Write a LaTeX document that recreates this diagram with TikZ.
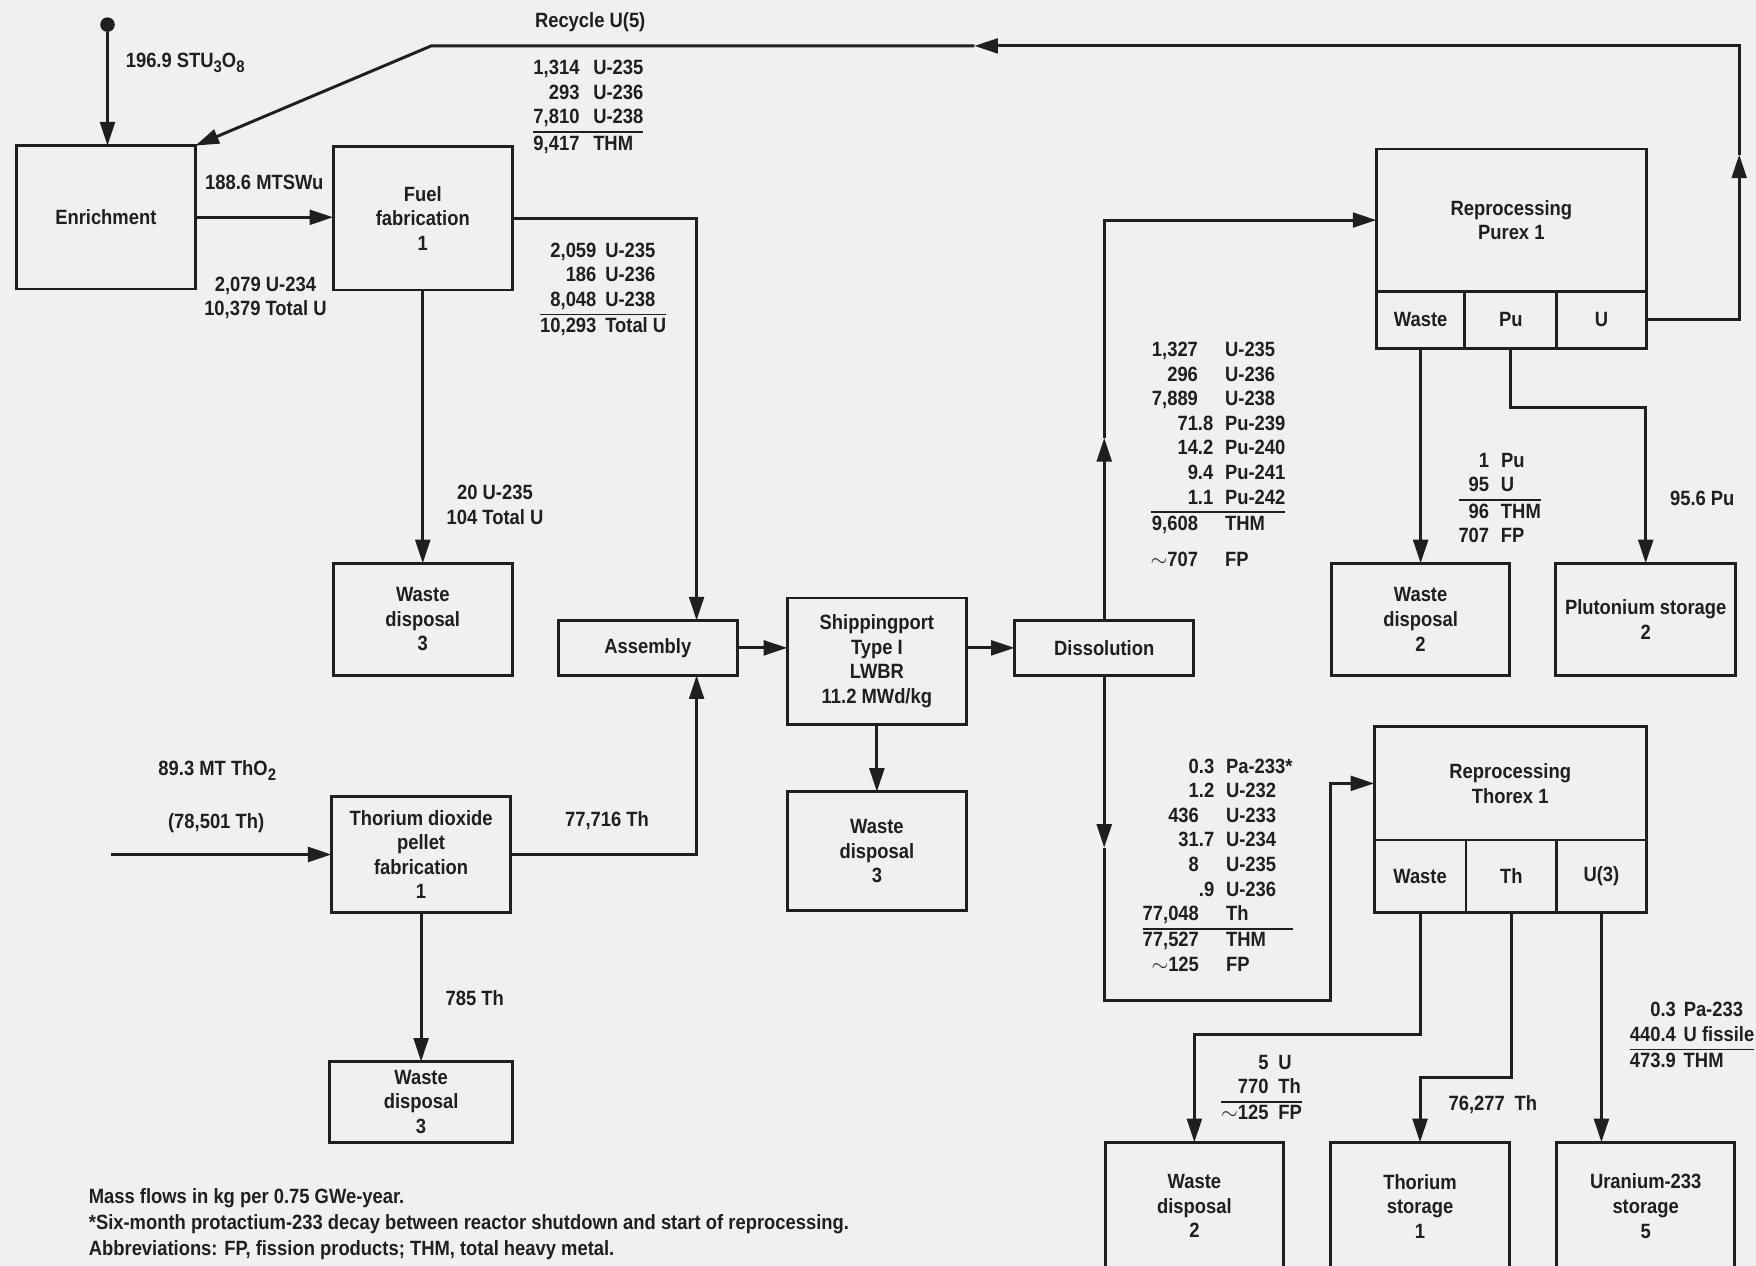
\documentclass[tikz,border=0pt]{standalone}
\usepackage{fontspec}
\setmainfont{Liberation Sans}[FakeStretch=0.89]
\usetikzlibrary{arrows.meta,positioning}
\definecolor{ink}{gray}{0.12}
\definecolor{paper}{gray}{0.94}
\setlength{\arrayrulewidth}{0.8pt}
\newcommand{\lowsub}[1]{\raisebox{-0.45ex}{\fontsize{8.5}{8.5}\selectfont #1}}

\begin{document}
\begin{tikzpicture}[
x=0.02cm, y=-0.02cm,
font=\fontsize{10.5}{12.5}\selectfont\bfseries,
every node/.style={text=ink},
process/.style={rectangle, draw=ink, line width=1.4pt, align=center, inner sep=0pt, outer sep=0pt, minimum width=3.2cm},
cell/.style={rectangle, draw=ink, line width=1.4pt, inner sep=0pt, outer sep=0pt},
link/.style={draw=ink, line width=1.5pt},
arrow/.style={link, -{Triangle[length=12pt,width=7.5pt]}},
flowtab/.style={inner sep=0pt, anchor=west},
note/.style={inner sep=0pt, align=center}
]

\useasboundingbox (0,0) rectangle (1568,1130);
\fill[paper] (0,0) rectangle (1568,1130);

\node[process, minimum height=2.56cm] (enr) at (94.5,194) {Enrichment};
\node[process, minimum height=2.56cm] (fuel) at (377.5,195) {Fuel\\fabrication\\1};
\node[process, minimum height=2cm] (wasteA) at (377.5,553) {Waste\\disposal\\3};
\node[process, minimum height=0.98cm] (assembly) at (578.5,578.5) {Assembly};
\node[process, minimum height=2.26cm] (reactor) at (783,590.5) {Shippingport\\Type I\\LWBR\\11.2 MWd/kg};
\node[process, minimum height=2.12cm] (wasteB) at (783,760) {Waste\\disposal\\3};
\node[process, minimum height=0.98cm] (dissolution) at (986,578.5) {Dissolution};
\node[process, minimum height=2.08cm] (thoriumfab) at (376,763) {Thorium dioxide\\pellet\\fabrication\\1};
\node[process, minimum width=3.26cm, minimum height=1.44cm] (wasteC) at (376,984) {Waste\\disposal\\3};

\node[process, minimum width=4.82cm, minimum height=2.54cm] (purex) at (1349.5,196.5) {Reprocessing\\Purex 1};
\node[cell, minimum width=1.58cm, minimum height=1.02cm, anchor=north west] (purexwaste) at (purex.south west) {Waste};
\node[cell, minimum width=1.64cm, minimum height=1.02cm, right=0pt of purexwaste] (purexpu) {Pu};
\node[cell, minimum width=1.6cm, minimum height=1.02cm, right=0pt of purexpu] (purexu) {U};

\node[process, minimum width=3.18cm, minimum height=2cm] (wasteD) at (1268.5,553) {Waste\\disposal\\2};
\node[process, minimum width=3.22cm, minimum height=2cm] (plutonium) at (1469.5,553) {Plutonium storage\\2};

\node[process, minimum width=4.86cm, minimum height=2.02cm] (thorex) at (1348.5,699.5) {Reprocessing\\Thorex 1};
\node[cell, minimum width=1.64cm, minimum height=1.3cm, anchor=north west] (thorexwaste) at (thorex.south west) {Waste};
\node[cell, minimum width=1.62cm, minimum height=1.3cm, right=0pt of thorexwaste] (thorexth) {Th};
\node[cell, minimum width=1.6cm, minimum height=1.3cm, right=0pt of thorexth] (thorexu) {U(3)};

\node[process, minimum width=3.18cm, minimum height=2.28cm] (wasteE) at (1066.5,1077) {Waste\\disposal\\2};
\node[process, minimum height=2.28cm] (thoriumstore) at (1268,1077) {Thorium\\storage\\1};
\node[process, minimum width=3.18cm, minimum height=2.28cm] (uranium) at (1469.5,1077) {Uranium-233\\storage\\5};

\node[circle, fill=ink, inner sep=0pt, minimum size=0.26cm] (feed) at (96,22) {};
\draw[arrow] (feed) -- (feed |- enr.north);
\node[note, anchor=west] (feedlabel) at (112,56) {196.9 STU\lowsub{3}O\lowsub{8}};

\coordinate (recycleup) at (1553,138);
\coordinate (recycleleft) at (870,41);
\coordinate (recyclekink) at (385,41);
\draw[arrow] (purexu.east) -| (recycleup);
\draw[arrow] (recycleup) |- (recycleleft);
\draw[arrow] (recycleleft) -- (recyclekink) -- (enr.north east);
\node[note] (recyclelabel) at (527,20) {Recycle U(5)};
\node[flowtab] (recycletab) at (476,96) {\begin{tabular}{@{}r@{\hspace{7pt}}l@{}}1,314&U-235\\293&U-236\\7,810&U-238\\\hline 9,417&THM\end{tabular}};

\draw[arrow] (enr.east) -- (enr.east -| fuel.west);
\node[note] (swu) at (236,163) {188.6 MTSWu};
\node[note] (enrout) at (237,266) {2,079 U-234\\10,379 Total U};

\coordinate (assemblyin) at (622,0);
\draw[arrow] (fuel.east) -| (assemblyin |- assembly.north);
\node[flowtab] (fueltab) at (482,259) {\begin{tabular}{@{}r@{\hspace{4.5pt}}l@{}}2,059&U-235\\186&U-236\\8,048&U-238\\\hline 10,293&Total U\end{tabular}};

\draw[arrow] (fuel.south) -- (fuel.south |- wasteA.north);
\node[note] (fuelloss) at (442,451) {20 U-235\\104 Total U};

\draw[arrow] (assembly.east) -- (assembly.east -| reactor.west);
\draw[arrow] (dissolution.west -| reactor.east) -- (dissolution.west);
\draw[arrow] (reactor.south) -- (reactor.south |- wasteB.north);

\coordinate (dissup) at (986,391);
\draw[arrow] (dissolution.north) -- (dissup);
\draw[arrow] (dissup) |- (purex.west);
\node[flowtab] (purexfeed) at (1027,407.5) {\begin{tabular}{@{}r@{}l@{\hspace{6pt}}l@{}}
1,327&&U-235\\296&&U-236\\7,889&&U-238\\71&.8&Pu-239\\14&.2&Pu-240\\9&.4&Pu-241\\1&.1&Pu-242\\\hline
9,608&&THM\\[5.7pt]$\sim$707&&FP\end{tabular}};

\coordinate (dissdown) at (986,757);
\coordinate (dissturn) at (1188,893);
\draw[arrow] (dissolution.south) -- (dissdown);
\draw[arrow] (dissdown) |- (dissturn) |- (thorex.west);
\node[flowtab] (thorexfeed) at (1020,774.5) {\begin{tabular}{@{}r@{}l@{\hspace{6pt}}l@{}}
0&.3&Pa-233*\\1&.2&U-232\\436&&U-233\\31&.7&U-234\\8&&U-235\\&.9&U-236\\77,048&&Th\\\hline
77,527&&THM\\$\sim$125&&FP\end{tabular}};

\draw[arrow] (purexwaste.south) -- (purexwaste.south |- wasteD.north);
\draw[arrow] (purexpu.south) -- ++(0,53) -| (plutonium.north);
\node[flowtab] (purexloss) at (1302,446.5) {\begin{tabular}{@{}r@{\hspace{6pt}}l@{}}1&Pu\\95&U\\\hline 96&THM\\707&FP\end{tabular}};
\node[note] (puout) at (1520,445) {95.6 Pu};

\draw[arrow] (thorexwaste.south) -- ++(0,109) -| (wasteE.north);
\node[flowtab] (thorexloss) at (1090,973) {\begin{tabular}{@{}r@{\hspace{5pt}}l@{}}5&U\\770&Th\\\hline $\sim$125&FP\end{tabular}};
\draw[arrow] (thorexth.south) -- ++(0,147) -| (thoriumstore.north);
\node[note] (thout) at (1333,986) {76,277\hspace{5pt}Th};
\draw[arrow] (thorexu.south) -- (thorexu.south |- uranium.north);
\node[flowtab] (uout) at (1455,926) {\begin{tabular}{@{}r@{\hspace{4pt}}l@{}}0.3&Pa-233\\440.4&U fissile\\\hline 473.9&THM\end{tabular}};

\coordinate (thoriumfeed) at (99,763);
\draw[arrow] (thoriumfeed) -- (thoriumfab.west);
\node[note] (tho2) at (194,688) {89.3 MT ThO\lowsub{2}};
\node[note] (thin) at (193,735) {(78,501 Th)};
\draw[arrow] (thoriumfab.east) -| (assemblyin |- assembly.south);
\node[note] (thfab) at (542,733) {77,716 Th};
\draw[arrow] (thoriumfab.south) -- (thoriumfab.south |- wasteC.north);
\node[note] (thloss) at (424,891) {785 Th};

\node[note, align=left, anchor=west, font=\fontsize{10.5}{13.4}\selectfont\bfseries] (footnote) at (79,1093) {Mass flows in kg per 0.75 GWe-year.\\*Six-month protactium-233 decay between reactor shutdown and start of reprocessing.\\Abbreviations: FP, fission products; THM, total heavy metal.};

\end{tikzpicture}
\end{document}
